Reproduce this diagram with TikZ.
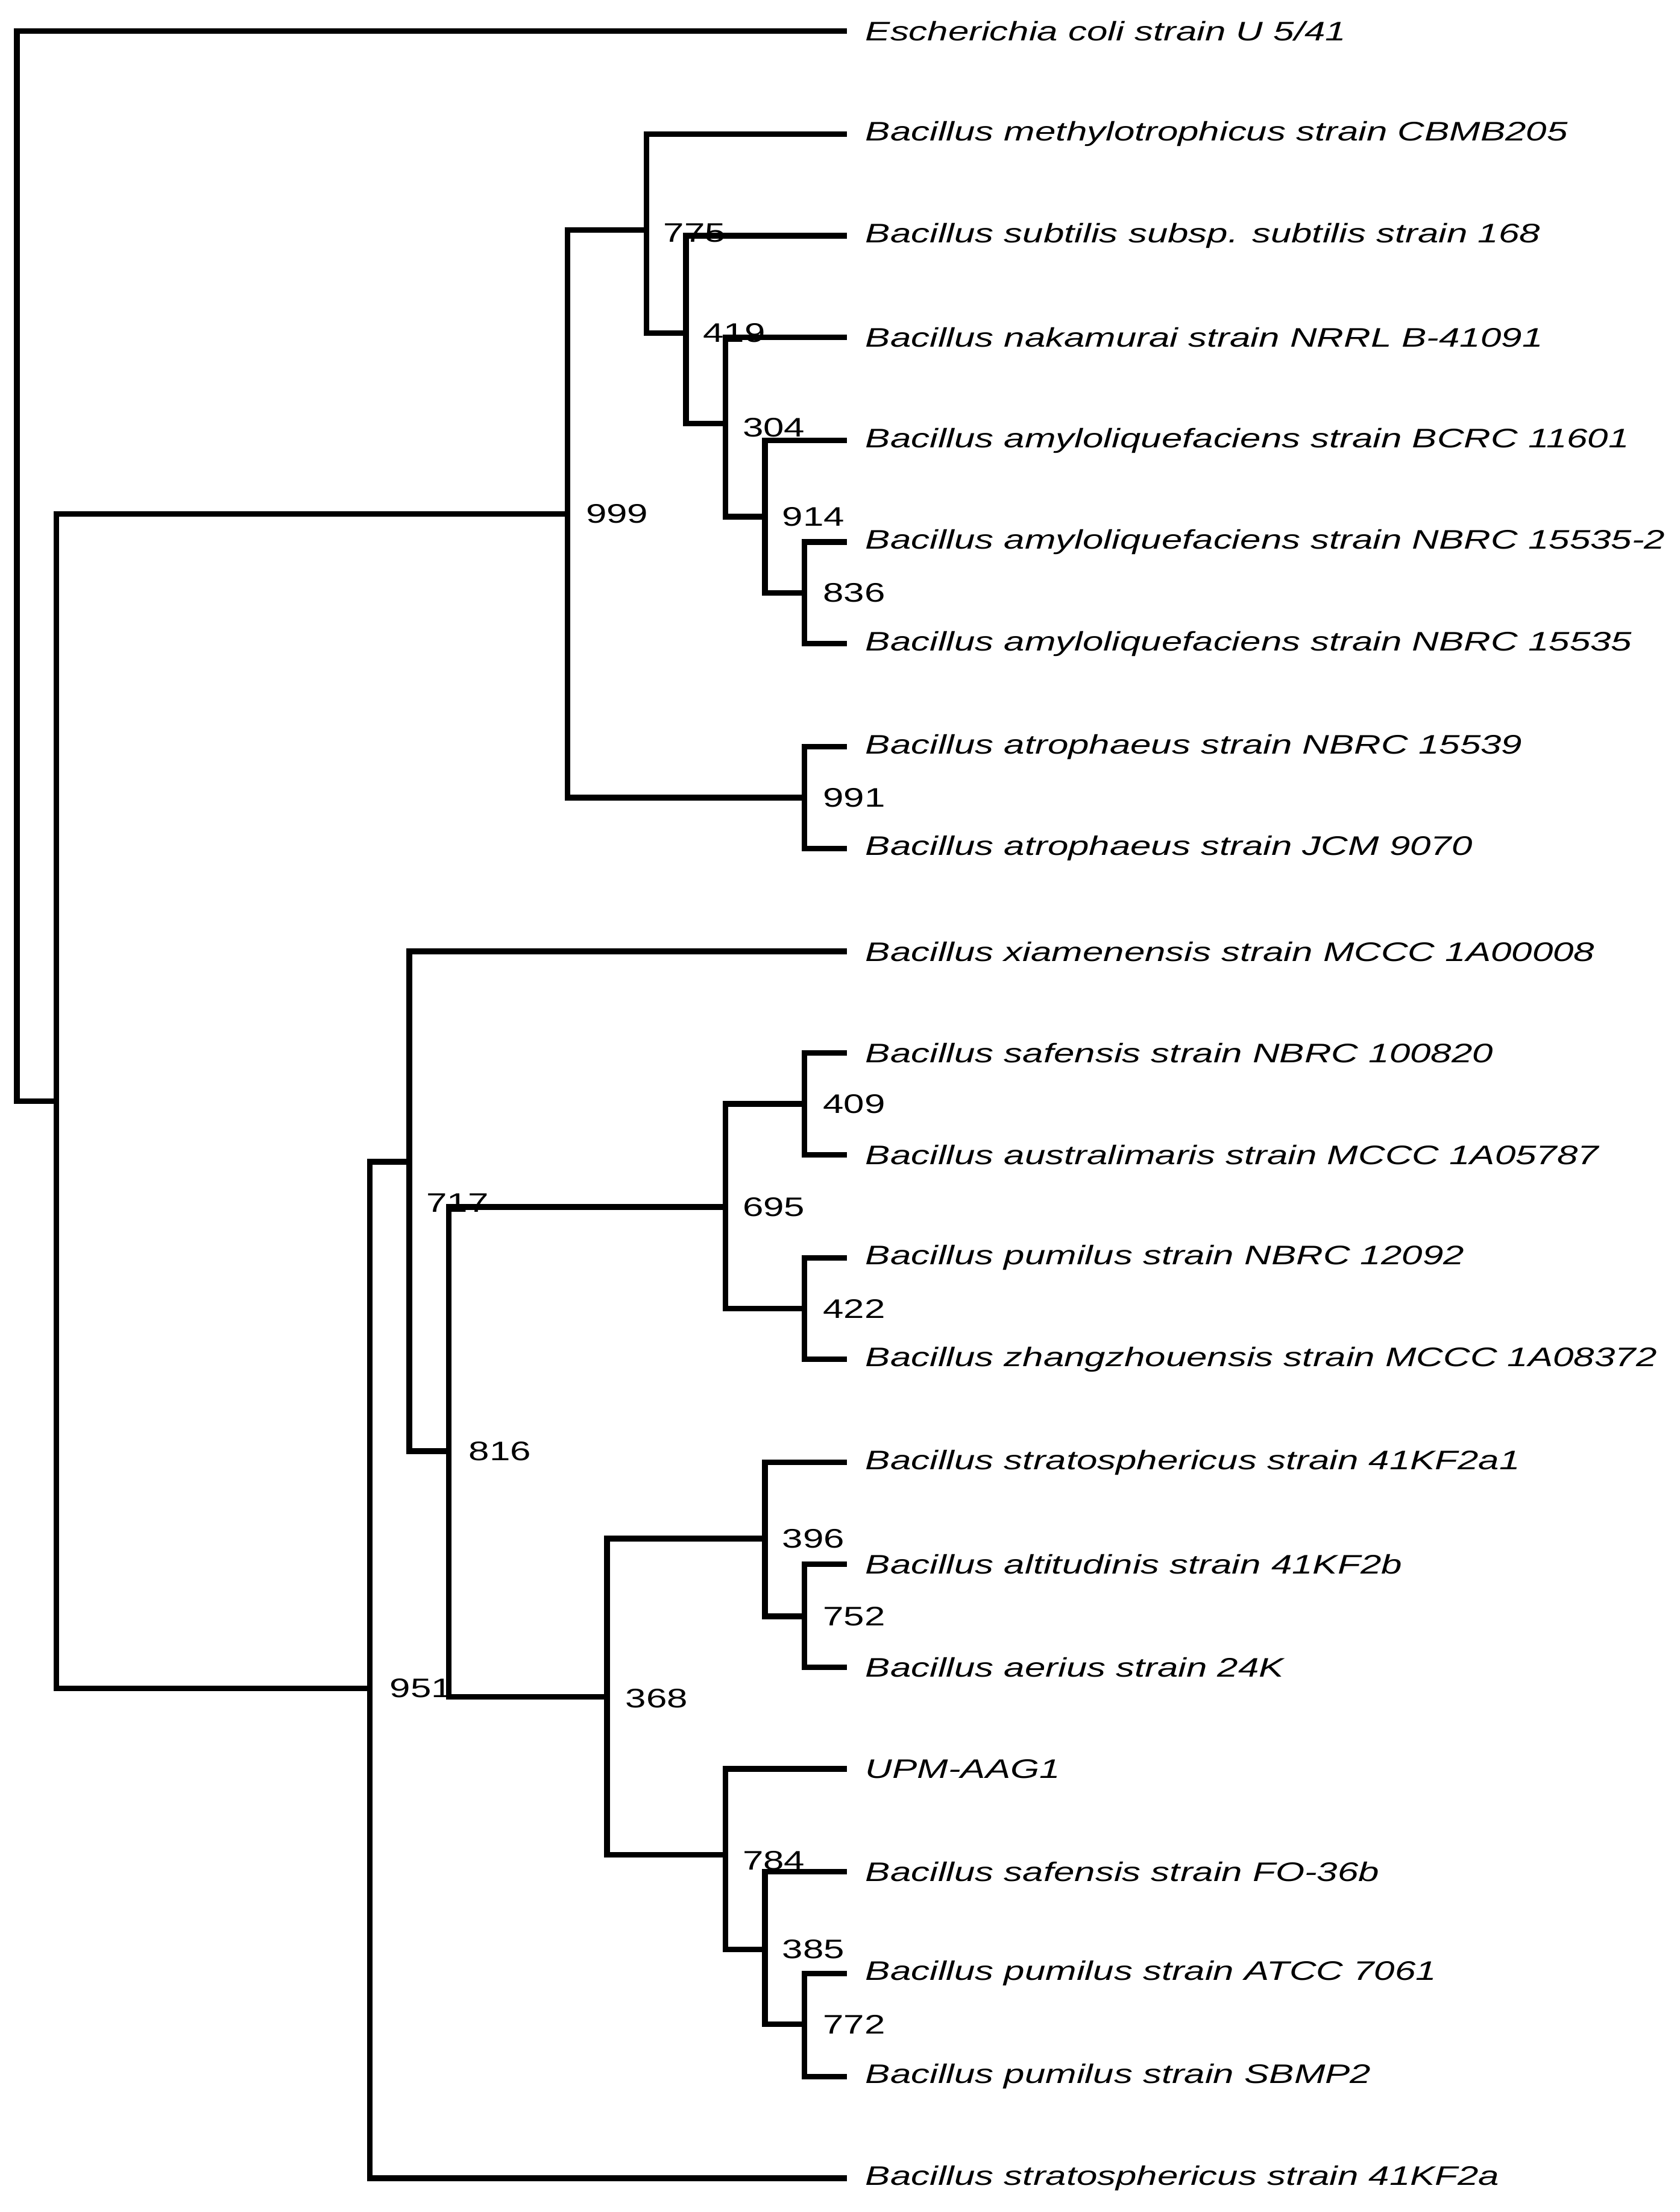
\documentclass[tikz,border=0pt]{standalone}
\usepackage{fontspec}
\setmainfont[FakeStretch=1.39]{Liberation Sans}
\begin{document}
\begin{tikzpicture}[x=1pt,y=-1pt,
  br/.style={line width=4pt,line join=miter},
  leaf/.style={anchor=west,font=\fontsize{19}{23}\selectfont\itshape,inner sep=0pt},
  boot/.style={anchor=west,font=\fontsize{19}{23}\selectfont,inner sep=0pt}]
\useasboundingbox (0,0) rectangle (1190,1567);
% leaves
\foreach \n/\y/\t in {
 l1/22/Escherichia coli strain U 5\slash 41,
 l2/95/Bacillus methylotrophicus strain CBMB205,
 l3/167/Bacillus subtilis subsp. subtilis strain 168,
 l4/239/Bacillus nakamurai strain NRRL B-41091,
 l5/312/Bacillus amyloliquefaciens strain BCRC 11601,
 l6/384/Bacillus amyloliquefaciens strain NBRC 15535-2,
 l7/456/Bacillus amyloliquefaciens strain NBRC 15535,
 l8/529/Bacillus atrophaeus strain NBRC 15539,
 l9/601/Bacillus atrophaeus strain JCM 9070,
 l10/674/Bacillus xiamenensis strain MCCC 1A00008,
 l11/746/Bacillus safensis strain NBRC 100820,
 l12/818/Bacillus australimaris strain MCCC 1A05787,
 l13/891/Bacillus pumilus strain NBRC 12092,
 l14/963/Bacillus zhangzhouensis strain MCCC 1A08372,
 l15/1036/Bacillus stratosphericus strain 41KF2a1,
 l16/1108/Bacillus altitudinis strain 41KF2b,
 l17/1181/Bacillus aerius strain 24K,
 l18/1253/UPM-AAG1,
 l19/1326/Bacillus safensis strain FO-36b,
 l20/1398/Bacillus pumilus strain ATCC 7061,
 l21/1471/Bacillus pumilus strain SBMP2,
 l22/1543/Bacillus stratosphericus strain 41KF2a}{
 \coordinate (\n) at (600,\y);
 \node[leaf] (\n t) at (613,\y) {\t};
}
% internal nodes
\foreach \n/\x/\y in {root/12/401, A/40/780, n999/402/364, n775/458/163, n419/486/236,
 n304/514/300, n914/542/366, n836/570/420, n991/570/565, n951/262/1196, n717/290/823,
 n816/318/1028, n695/514/855, n409/570/782, n422/570/927, n368/430/1202, n396/542/1090,
 n752/570/1145, n784/514/1314, n385/542/1381, n772/570/1434}{
 \coordinate (\n) at (\x,\y);
}
% edges
\foreach \p/\c in {root/l1, root/A, A/n999, A/n951, n999/n775, n999/n991, n775/l2, n775/n419,
 n419/l3, n419/n304, n304/l4, n304/n914, n914/l5, n914/n836, n836/l6, n836/l7,
 n991/l8, n991/l9, n951/n717, n951/l22, n717/l10, n717/n816, n816/n695, n816/n368,
 n695/n409, n695/n422, n409/l11, n409/l12, n422/l13, n422/l14, n368/n396, n368/n784,
 n396/l15, n396/n752, n752/l16, n752/l17, n784/l18, n784/n385, n385/l19, n385/n772,
 n772/l20, n772/l21}{
 \draw[br] (\p) |- (\c);
}
% bootstrap labels
\foreach \n/\x/\y/\t in {b999/415/364/999, b775/470/165/775, b419/498/236/419, b304/526/303/304,
 b914/554/366/914, b836/583/420/836, b991/583/565/991, b951/276/1196/951, b717/302/852/717,
 b816/332/1028/816, b695/526/855/695, b409/583/782/409, b422/583/927/422, b368/443/1203/368,
 b396/554/1090/396, b752/583/1145/752, b784/526/1318/784, b385/554/1381/385, b772/583/1434/772}{
 \node[boot] (\n) at (\x,\y) {\t};
}
\end{tikzpicture}
\end{document}
